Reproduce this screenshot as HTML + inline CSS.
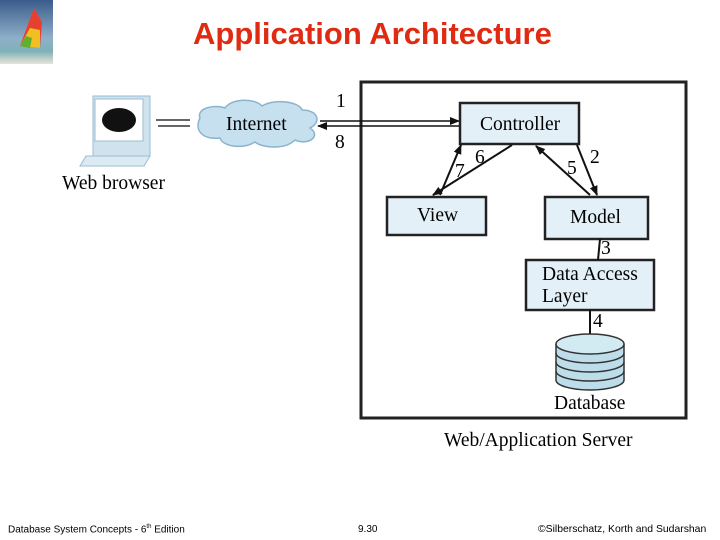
<!DOCTYPE html>
<html><head><style>
body{margin:0;width:720px;height:540px;background:#fff;overflow:hidden;position:relative;font-family:"Liberation Sans",sans-serif}
.t{position:absolute;left:193px;top:16px;white-space:nowrap;font-size:31px;font-weight:bold;color:#e02a12}
.f{position:absolute;top:524px;font-size:10px;color:#000;white-space:nowrap}
</style></head><body>
<svg width="58" height="64" style="position:absolute;left:0;top:0">
<defs><linearGradient id="sk" x1="0" y1="0" x2="0" y2="1"><stop offset="0" stop-color="#3a5c8c"/><stop offset="0.6" stop-color="#8fb0c8"/><stop offset="0.8" stop-color="#7fb0b8"/><stop offset="1" stop-color="#e8e4d8"/></linearGradient></defs>
<rect width="53" height="64" fill="url(#sk)"/>
<polygon points="34,8 42,22 40,48 20,46" fill="#e84030"/>
<polygon points="20,46 30,28 40,30 40,48" fill="#f0c020"/>
<polygon points="20,46 26,36 32,38 30,48" fill="#60b030"/>
</svg>
<div class="t">Application Architecture</div>
<svg width="720" height="540" style="position:absolute;left:0;top:0" font-family="Liberation Serif,serif" font-size="19.5">
<defs><marker id="a" markerWidth="10" markerHeight="8" refX="9" refY="4" orient="auto" markerUnits="userSpaceOnUse"><path d="M0,0 L10,4 L0,8 Z" fill="#111"/></marker></defs>
<rect x="361" y="82" width="325" height="336" fill="none" stroke="#222" stroke-width="3"/>
<rect x="93" y="96" width="57" height="60" fill="#cfe3ef" stroke="#9bbcd0"/>
<rect x="95" y="99" width="48" height="42" fill="#fff" stroke="#9bbcd0"/>
<ellipse cx="119" cy="120" rx="17" ry="12" fill="#111"/>
<polygon points="86,156 150,156 144,166 80,166" fill="#dceaf3" stroke="#9bbcd0"/>
<line x1="156" y1="120" x2="190" y2="120" stroke="#333" stroke-width="1.5"/>
<line x1="158" y1="126" x2="190" y2="126" stroke="#333" stroke-width="1.5"/>
<text x="62" y="189">Web browser</text>
<path d="M200,118 C196,108 215,104 225,108 C232,98 255,98 262,106 C275,98 300,102 302,110 C318,110 322,122 310,128 C322,136 308,146 295,140 C285,150 262,148 255,142 C242,150 222,146 220,138 C202,140 194,130 200,118 Z" fill="#c6e0f0" stroke="#8ab4cc" stroke-width="1.5"/>
<text x="226" y="130">Internet</text>
<text x="336" y="107">1</text>
<text x="335" y="148">8</text>
<line x1="320" y1="121" x2="459" y2="121" stroke="#111" stroke-width="1.5" marker-end="url(#a)"/>
<line x1="460" y1="126" x2="318" y2="126" stroke="#111" stroke-width="1.5" marker-end="url(#a)"/>
<rect x="460" y="103" width="119" height="41" fill="#e3f0f8" stroke="#222" stroke-width="2.5"/>
<text x="480" y="130">Controller</text>
<rect x="387" y="197" width="99" height="38" fill="#e3f0f8" stroke="#222" stroke-width="2.5"/>
<text x="417" y="221">View</text>
<rect x="545" y="197" width="103" height="42" fill="#e3f0f8" stroke="#222" stroke-width="2.5"/>
<text x="570" y="223">Model</text>
<rect x="526" y="260" width="128" height="50" fill="#e3f0f8" stroke="#222" stroke-width="2.5"/>
<text x="542" y="280">Data Access</text>
<text x="542" y="302">Layer</text>
<line x1="512" y1="145" x2="433" y2="195" stroke="#111" stroke-width="2" marker-end="url(#a)"/>
<line x1="440" y1="195" x2="461" y2="145" stroke="#111" stroke-width="2" marker-end="url(#a)"/>
<line x1="590" y1="195" x2="536" y2="146" stroke="#111" stroke-width="2" marker-end="url(#a)"/>
<line x1="577" y1="145" x2="597" y2="195" stroke="#111" stroke-width="2" marker-end="url(#a)"/>
<text x="455" y="177">7</text><text x="475" y="163">6</text>
<text x="567" y="174">5</text><text x="590" y="163">2</text>
<line x1="600" y1="239" x2="598" y2="260" stroke="#111" stroke-width="2"/>
<text x="601" y="254">3</text>
<line x1="590" y1="310" x2="590" y2="336" stroke="#111" stroke-width="2"/>
<text x="593" y="327">4</text>
<path d="M556,344 L556,380 A34,10 0 0 0 624,380 L624,344" fill="#bcdde9" stroke="#333" stroke-width="1.5"/>
<path d="M556,353 A34,10 0 0 0 624,353 M556,362 A34,10 0 0 0 624,362 M556,371 A34,10 0 0 0 624,371" fill="none" stroke="#333" stroke-width="1.5"/>
<ellipse cx="590" cy="344" rx="34" ry="10" fill="#d2ebf3" stroke="#333" stroke-width="1.5"/>
<text x="554" y="409">Database</text>
<text x="444" y="446">Web/Application Server</text>
</svg>
<div class="f" style="left:8px">Database System Concepts - 6<sup style="font-size:6px">th</sup> Edition</div>
<div class="f" style="left:358px">9.30</div>
<div class="f" style="left:538px;font-size:10.4px">©Silberschatz, Korth and Sudarshan</div>
</body></html>
